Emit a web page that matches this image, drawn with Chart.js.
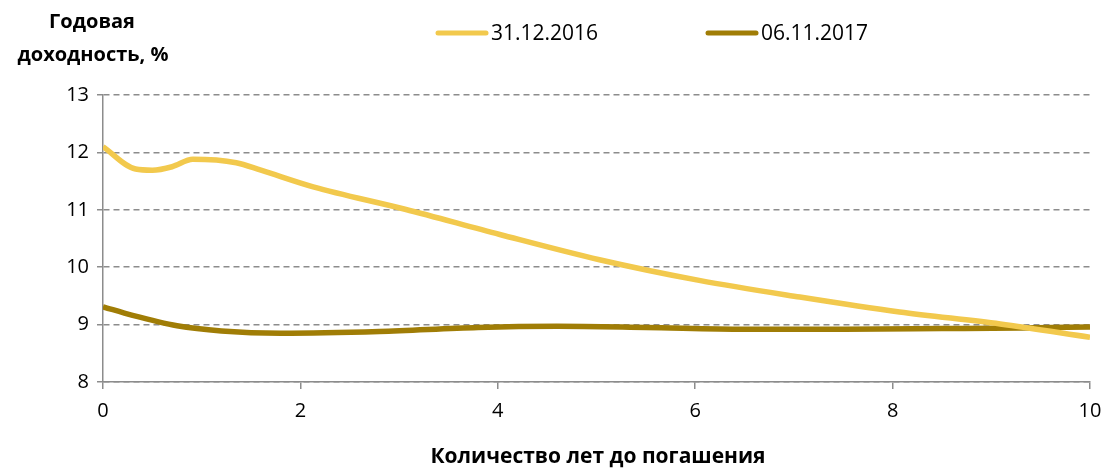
<!DOCTYPE html>
<html>
<head>
<meta charset="utf-8">
<script src="https://cdn.jsdelivr.net/npm/chart.js@4"></script>
<style>
  html, body { margin: 0; padding: 0; background: #fff; }
  #wrap { width: 1104px; height: 468px; position: relative; }
</style>
</head>
<body>
<div id="wrap"><canvas id="yieldChart" width="1104" height="468"></canvas></div>
<script>
const seriesNames = ["31.12.2016", "06.11.2017"]

// years to maturity / yield
const yearsA = [0, 0.33, 0.5, 0.7, 0.91, 1.35, 1.6, 2.13, 3.06, 4.02, 5.03, 6.04, 7.06, 8.07, 9.09, 10]
const yieldA = [12.10, 11.71, 11.69, 11.75, 11.88, 11.82, 11.69, 11.40, 11.01, 10.57, 10.13, 9.77, 9.48, 9.22, 9.01, 8.78]

const yearsB = [0, 0.3, 0.75, 1.2, 1.8, 2.8, 3.8, 4.6, 5.5, 6.5, 7.5, 8.5, 9.3, 10]
const yieldB = [9.31, 9.16, 8.98, 8.89, 8.85, 8.88, 8.95, 8.97, 8.95, 8.92, 8.92, 8.93, 8.94, 8.96]

const colors = ["#F2C94D", "#A07D06"]
const FONT = "'Open Sans', sans-serif"

function toPoints(xs, ys) {
  return xs.map((x, i) => ({ x: x, y: ys[i] }))
}

const extras = {
  id: "extras",
  afterDraw(chart) {
    const c = chart.ctx
    c.save()
    c.fillStyle = "#000"
    c.textAlign = "center"
    c.textBaseline = "middle"
    // y axis title
    c.font = "bold 20px " + FONT
    c.fillText("Годовая", 92, 22)
    c.fillText("доходность, %", 93, 55)
    // x axis title
    c.font = "bold 21px " + FONT
    c.fillText("Количество лет до погашения", 598, 457)
    // legend
    const items = [{ x: 436 }, { x: 706 }]
    c.font = "21px " + FONT
    c.textAlign = "left"
    items.forEach((it, i) => {
      c.strokeStyle = colors[i]
      c.lineWidth = 5
      c.lineCap = "round"
      c.beginPath()
      c.moveTo(it.x + 2, 33)
      c.lineTo(it.x + 50, 33)
      c.stroke()
      c.fillText(seriesNames[i], it.x + 55, 34)
    })
    c.restore()
  }
}

const ctx = document.getElementById("yieldChart").getContext("2d")
new Chart(ctx, {
  type: "scatter",
  data: {
    datasets: [
      { label: seriesNames[0], data: toPoints(yearsA, yieldA), showLine: true, borderColor: colors[0], borderWidth: 5.5, pointRadius: 0, cubicInterpolationMode: "monotone" },
      { label: seriesNames[1], data: toPoints(yearsB, yieldB), showLine: true, borderColor: colors[1], borderWidth: 5.5, pointRadius: 0, cubicInterpolationMode: "monotone" }
    ]
  },
  options: {
    responsive: false,
    animation: false,
    layout: { padding: { left: 0, top: 95, right: 14, bottom: 0 } },
    plugins: { legend: { display: false }, tooltip: { enabled: false } },
    scales: {
      x: {
        type: "linear",
        min: 0,
        max: 10,
        afterFit: s => { s.height = 86; s.paddingRight = 0; s.paddingLeft = 0 },
        ticks: { stepSize: 2, color: "#000", padding: 10, font: { family: FONT, size: 20 } },
        grid: { drawOnChartArea: false, drawTicks: true, tickLength: 7, color: "#8C8C8C", lineWidth: 1.5 },
        border: { color: "#8C8C8C", width: 1.5 }
      },
      y: {
        min: 8,
        max: 13,
        afterFit: s => { s.width = 103 },
        ticks: { stepSize: 1, color: "#000", padding: 8, font: { family: FONT, size: 20 } },
        grid: { color: "#8C8C8C", lineWidth: 1.5, tickLength: 6, drawTicks: true, tickBorderDash: [] },
        border: { color: "#8C8C8C", width: 1.5, dash: [6, 4] }
      }
    }
  },
  plugins: [extras]
})
</script>
</body>
</html>
